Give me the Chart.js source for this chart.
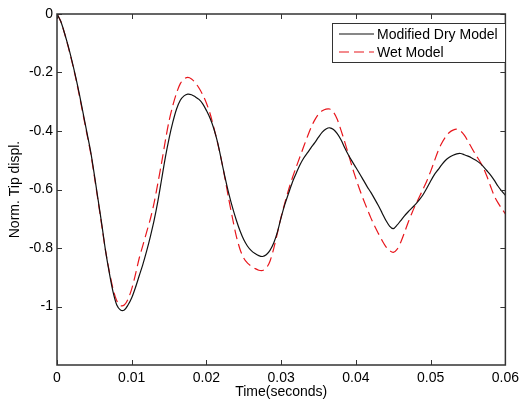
<!DOCTYPE html>
<html>
<head>
<meta charset="utf-8">
<script src="https://cdn.jsdelivr.net/npm/chart.js@4.4.0/dist/chart.umd.min.js"></script>
<style>
  html, body { margin: 0; padding: 0; background: #fff; }
</style>
</head>
<body>
<canvas id="myChart" width="524" height="402"></canvas>
<script>
// time samples (seconds)
const time = [
  0, 0.0005, 0.001, 0.0015, 0.002, 0.0025, 0.003, 0.0035, 0.004, 0.0045,
  0.005, 0.0055, 0.006, 0.0065, 0.007, 0.0075, 0.008, 0.0085, 0.009, 0.0095,
  0.01, 0.0105, 0.011, 0.0115, 0.012, 0.0125, 0.013, 0.0135, 0.014, 0.0145,
  0.015, 0.0155, 0.016, 0.0165, 0.017, 0.0175, 0.018, 0.0185, 0.019, 0.0195,
  0.02, 0.0205, 0.021, 0.0215, 0.022, 0.0225, 0.023, 0.0235, 0.024, 0.0245,
  0.025, 0.0255, 0.026, 0.0265, 0.027, 0.0275, 0.028, 0.0285, 0.029, 0.0295,
  0.03, 0.0305, 0.031, 0.0315, 0.032, 0.0325, 0.033, 0.0335, 0.034, 0.0345,
  0.035, 0.0355, 0.036, 0.0365, 0.037, 0.0375, 0.038, 0.0385, 0.039, 0.0395,
  0.04, 0.0405, 0.041, 0.0415, 0.042, 0.0425, 0.043, 0.0435, 0.044, 0.0445,
  0.045, 0.0455, 0.046, 0.0465, 0.047, 0.0475, 0.048, 0.0485, 0.049, 0.0495,
  0.05, 0.0505, 0.051, 0.0515, 0.052, 0.0525, 0.053, 0.0535, 0.054, 0.0545,
  0.055, 0.0555, 0.056, 0.0565, 0.057, 0.0575, 0.058, 0.0585, 0.059, 0.0595,
  0.06
];

const dryModel = [
  0, -0.025, -0.065, -0.11, -0.16, -0.215, -0.275, -0.34, -0.405, -0.47,
  -0.55, -0.635, -0.72, -0.81, -0.885, -0.95, -0.995, -1.012, -1.012, -0.995,
  -0.97, -0.935, -0.895, -0.855, -0.81, -0.76, -0.705, -0.64, -0.565, -0.49,
  -0.425, -0.37, -0.325, -0.295, -0.28, -0.274, -0.276, -0.283, -0.292, -0.307,
  -0.33, -0.357, -0.393, -0.44, -0.5, -0.56, -0.615, -0.663, -0.705, -0.742,
  -0.772, -0.794, -0.809, -0.819, -0.826, -0.829, -0.823, -0.808, -0.783, -0.745,
  -0.695, -0.65, -0.612, -0.575, -0.545, -0.516, -0.493, -0.475, -0.457, -0.44,
  -0.421, -0.404, -0.393, -0.389, -0.395, -0.409, -0.43, -0.457, -0.482, -0.504,
  -0.525, -0.546, -0.568, -0.59, -0.61, -0.632, -0.655, -0.68, -0.705, -0.725,
  -0.734, -0.722, -0.706, -0.69, -0.676, -0.663, -0.65, -0.635, -0.617, -0.595,
  -0.571, -0.549, -0.532, -0.515, -0.5, -0.49, -0.483, -0.478, -0.477, -0.481,
  -0.486, -0.492, -0.499, -0.508, -0.52, -0.535, -0.55, -0.568, -0.588, -0.605,
  -0.62
];

const wetModel = [
  0, -0.025, -0.065, -0.112, -0.163, -0.218, -0.28, -0.345, -0.41, -0.475,
  -0.555, -0.64, -0.725, -0.81, -0.88, -0.94, -0.98, -0.997, -0.995, -0.975,
  -0.94, -0.89, -0.835, -0.79, -0.745, -0.7, -0.645, -0.578, -0.508, -0.433,
  -0.365, -0.313, -0.27, -0.238, -0.222, -0.217, -0.222, -0.235, -0.253, -0.276,
  -0.305, -0.342, -0.39, -0.442, -0.5, -0.565, -0.635, -0.7, -0.76, -0.805,
  -0.835, -0.852, -0.862, -0.87, -0.876, -0.877, -0.869, -0.845, -0.802, -0.748,
  -0.693, -0.645, -0.6, -0.56, -0.524, -0.489, -0.454, -0.42, -0.388, -0.362,
  -0.342, -0.331, -0.325, -0.325, -0.336, -0.36, -0.397, -0.437, -0.48, -0.523,
  -0.563, -0.6, -0.634, -0.666, -0.697, -0.725, -0.75, -0.774, -0.795, -0.809,
  -0.815, -0.805, -0.78, -0.747, -0.712, -0.68, -0.651, -0.625, -0.598, -0.57,
  -0.538, -0.503, -0.468, -0.441, -0.42, -0.405, -0.397, -0.394, -0.4, -0.414,
  -0.435, -0.458, -0.48, -0.5, -0.523, -0.553, -0.588, -0.621, -0.645, -0.665,
  -0.683
];

const xTicks = [0, 0.01, 0.02, 0.03, 0.04, 0.05, 0.06];
const yTicks = [0, -0.2, -0.4, -0.6, -0.8, -1];

const FONT = 'Liberation Sans, Arial, sans-serif';

// matlab-style box with inward ticks + legend inside the axes
const frame = {
  id: 'frame',
  afterDatasetsDraw(chart) {
    const { ctx, chartArea: a, scales: { x, y } } = chart;
    ctx.save();
    ctx.strokeStyle = '#333';
    ctx.lineWidth = 1.5;
    ctx.strokeRect(a.left, a.top, a.right - a.left, a.bottom - a.top);
    ctx.lineWidth = 1;
    ctx.beginPath();
    xTicks.forEach(v => {
      const px = Math.round(x.getPixelForValue(v)) + 0.5;
      ctx.moveTo(px, a.bottom); ctx.lineTo(px, a.bottom - 5);
      ctx.moveTo(px, a.top); ctx.lineTo(px, a.top + 5);
    });
    yTicks.forEach(v => {
      const py = Math.round(y.getPixelForValue(v)) + 0.5;
      ctx.moveTo(a.left, py); ctx.lineTo(a.left + 5, py);
      ctx.moveTo(a.right, py); ctx.lineTo(a.right - 5, py);
    });
    ctx.stroke();

    // legend
    const bx = 332, by = 23, bw = 173, bh = 39;
    ctx.fillStyle = '#fff';
    ctx.fillRect(bx, by, bw, bh);
    ctx.strokeStyle = '#333';
    ctx.lineWidth = 1;
    ctx.strokeRect(bx + 0.5, by + 0.5, bw, bh);
    ctx.font = '14px ' + FONT;
    ctx.textBaseline = 'middle';
    chart.data.datasets.forEach((ds, i) => {
      const ly = by + 11 + i * 18;
      ctx.strokeStyle = ds.borderColor;
      ctx.lineWidth = ds.borderWidth;
      ctx.setLineDash(ds.borderDash || []);
      ctx.beginPath();
      ctx.moveTo(bx + 7, ly); ctx.lineTo(bx + 42, ly);
      ctx.stroke();
      ctx.setLineDash([]);
      ctx.fillStyle = '#000';
      ctx.fillText(ds.label, bx + 45, ly + 1);
    });
    ctx.restore();
  }
};

const ctx = document.getElementById('myChart').getContext('2d');
new Chart(ctx, {
  type: 'line',
  data: {
    datasets: [
      {
        label: 'Modified Dry Model',
        data: time.map((t, i) => ({ x: t, y: dryModel[i] })),
        borderColor: '#111',
        borderWidth: 1.2,
        pointRadius: 0,
        tension: 0.3
      },
      {
        label: 'Wet Model',
        data: time.map((t, i) => ({ x: t, y: wetModel[i] })),
        borderColor: '#e8161c',
        borderWidth: 1.2,
        borderDash: [10, 5],
        pointRadius: 0,
        tension: 0.3
      }
    ]
  },
  options: {
    responsive: false,
    animation: false,
    devicePixelRatio: 1,
    layout: { padding: { top: 14, right: 14, left: 0, bottom: 0 } },
    plugins: { legend: { display: false }, tooltip: { enabled: false } },
    scales: {
      x: {
        type: 'linear',
        min: 0,
        max: 0.06,
        afterBuildTicks: (s) => { s.ticks = xTicks.map(v => ({ value: v })); },
        afterFit: (s) => { s.height = 37; },
        grid: { display: false, drawTicks: false },
        border: { display: false },
        ticks: {
          padding: 5,
          color: '#000',
          font: { family: FONT, size: 14 },
          maxRotation: 0,
          callback: (v) => String(v)
        },
        title: {
          display: true,
          text: 'Time(seconds)',
          color: '#000',
          font: { family: FONT, size: 14 },
          padding: { top: 0, bottom: 1 }
        }
      },
      y: {
        min: -1.2,
        max: 0,
        afterBuildTicks: (s) => { s.ticks = yTicks.map(v => ({ value: v })); },
        afterFit: (s) => { s.width = 57; },
        grid: { display: false, drawTicks: false },
        border: { display: false },
        ticks: {
          padding: 4,
          color: '#000',
          font: { family: FONT, size: 14 },
          callback: (v) => String(v)
        },
        title: {
          display: true,
          text: 'Norm. Tip displ.',
          color: '#000',
          font: { family: FONT, size: 14 },
          padding: { top: 7, bottom: 0 }
        }
      }
    }
  },
  plugins: [frame]
});
</script>
</body>
</html>
